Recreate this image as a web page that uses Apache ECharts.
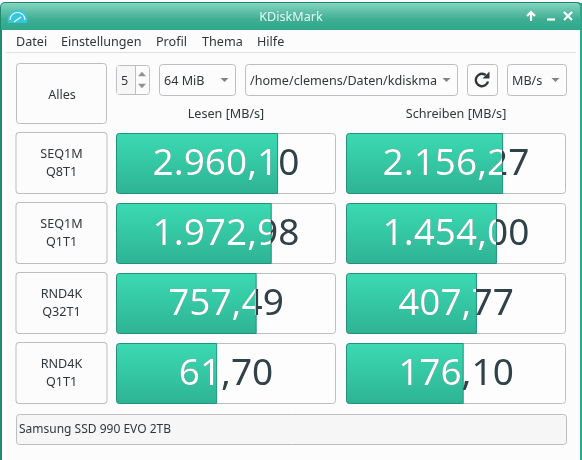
<!DOCTYPE html>
<html>
<head>
<meta charset="utf-8">
<title>KDiskMark</title>
<style>
html, body { margin: 0; padding: 0; background: #fff; }
#main { width: 582px; height: 460px; }
</style>
<script src="https://cdn.jsdelivr.net/npm/echarts@6/dist/echarts.min.js"></script>
</head>
<body>
<div id="main"></div>
<script>
var categories = ['SEQ1M\nQ8T1', 'SEQ1M\nQ1T1', 'RND4K\nQ32T1', 'RND4K\nQ1T1'];
var readValues = [2960.10, 1972.98, 757.49, 61.70];
var writeValues = [2156.27, 1454.00, 407.77, 176.10];
var menuItems = ['Datei', 'Einstellungen', 'Profil', 'Thema', 'Hilfe'];
var menuX = [16, 61, 156, 202, 257];

// the bars in the program are on a log scale
var axisMin = 0.1;
var axisMax = 117000;

var font = '"Noto Sans", sans-serif';
var dark = '#31363b';
var line = '#bcbebf';

var myChart = echarts.init(document.getElementById('main'), null, { renderer: 'canvas' });

function formatValue(v) {
    return v.toLocaleString('de-DE', { minimumFractionDigits: 2, maximumFractionDigits: 2 });
}

function label(x, y, text, opt) {
    opt = opt || {};
    return {
        type: 'text',
        x: x,
        y: y,
        z: 5,
        style: {
            text: text,
            fill: opt.fill || dark,
            font: (opt.size || 12.6) + 'px ' + font,
            align: opt.align || 'left',
            verticalAlign: 'middle'
        }
    };
}

function box(x, y, w, h, fill) {
    return {
        type: 'rect',
        z: 2,
        shape: { x: x + 0.5, y: y + 0.5, width: w, height: h, r: 3 },
        style: { fill: fill || '#fcfcfc', stroke: line, lineWidth: 1 }
    };
}

// h < 0 points the triangle up
function triangle(cx, cy, w, h, color) {
    return {
        type: 'polygon',
        z: 5,
        shape: { points: [[cx - w / 2, cy - h / 2], [cx + w / 2, cy - h / 2], [cx, cy + h / 2]] },
        style: { fill: color || '#7f8387' }
    };
}

function stroke(points, color, width) {
    return {
        type: 'polyline',
        z: 5,
        shape: { points: points },
        style: { stroke: color, lineWidth: width, fill: null }
    };
}

var chrome = [
    // window frame
    { type: 'rect', z: 0, shape: { x: 0, y: 2, width: 582, height: 458, r: [5, 5, 0, 0] }, style: { fill: '#1f8a72' } },
    { type: 'rect', z: 0, shape: { x: 580, y: 3, width: 2, height: 457 }, style: { fill: '#2ea88c' } },
    {
        type: 'rect',
        z: 1,
        shape: { x: 1, y: 3, width: 579, height: 27, r: [4, 4, 0, 0] },
        style: {
            fill: new echarts.graphic.LinearGradient(0, 0, 0, 1, [
                { offset: 0, color: '#84d4be' },
                { offset: 0.6, color: '#3fae93' },
                { offset: 1, color: '#2da88b' }
            ])
        }
    },
    { type: 'rect', z: 1, shape: { x: 2, y: 30, width: 578, height: 430 }, style: { fill: '#fcfcfc' } },
    { type: 'rect', z: 2, shape: { x: 6, y: 52, width: 570, height: 1 }, style: { fill: '#dfe0e0' } },

    // app icon
    { type: 'sector', z: 3, shape: { cx: 17.5, cy: 20, r: 10, r0: 0, startAngle: Math.PI, endAngle: Math.PI * 2 }, style: { fill: '#35c6dc' } },
    { type: 'rect', z: 3, shape: { x: 7.5, y: 19, width: 20, height: 4, r: 2 }, style: { fill: '#35c6dc' } },
    { type: 'arc', z: 4, shape: { cx: 17.5, cy: 20, r: 7.5, startAngle: Math.PI, endAngle: Math.PI * 2 }, style: { stroke: '#e8fbfd', lineWidth: 1.2, fill: null } },
    stroke([[14, 22], [21, 17]], '#e8fbfd', 1.3),

    label(291, 17, 'KDiskMark', { fill: '#e9f6f2', align: 'center' }),

    // window buttons
    stroke([[531, 21], [531, 12]], '#fff', 2.2),
    stroke([[527, 16], [531, 12], [535, 16]], '#fff', 2.2),
    stroke([[547, 19.5], [555, 19.5]], '#fff', 2.2),
    stroke([[564, 12], [572, 20]], '#fff', 2.2),
    stroke([[572, 12], [564, 20]], '#fff', 2.2),

    // toolbar
    box(16, 63, 90, 60, '#fcfcfc'),
    label(62, 95, 'Alles', { align: 'center' }),

    box(116, 65, 33, 29, '#fcfcfc'),
    { type: 'rect', z: 3, shape: { x: 117, y: 66, width: 18, height: 28 }, style: { fill: '#f6f6f6' } },
    { type: 'rect', z: 3, shape: { x: 135, y: 66, width: 1, height: 28 }, style: { fill: line } },
    label(124.5, 81, '5', { align: 'center' }),
    triangle(142, 74, 8, -4.5, '#8f9295'),
    triangle(142, 86, 8, 4.5, '#8f9295'),

    box(159, 64, 76, 31),
    label(164, 81, '64 MiB'),
    triangle(224.5, 80, 8, 4),

    box(245, 64, 212, 31),
    label(250, 81, '/home/clemens/Daten/kdiskma'),
    triangle(446.5, 80, 8, 4),

    box(467, 64, 30, 31),
    { type: 'arc', z: 5, shape: { cx: 482, cy: 80, r: 6.2, startAngle: Math.PI * 0.08, endAngle: -Math.PI * 0.3, clockwise: true }, style: { stroke: dark, lineWidth: 2.4, fill: null } },
    { type: 'polygon', z: 5, shape: { points: [[489.5, 71.5], [489.5, 78.5], [482.5, 78.5]] }, style: { fill: dark } },

    box(507, 64, 59, 31),
    label(512, 81, 'MB/s'),
    triangle(555.5, 80, 8, 4),

    // drive name
    box(16, 414, 550, 30, '#f6f6f6'),
    label(19, 430, 'Samsung SSD 990 EVO 2TB', { size: 12 })
];

menuItems.forEach(function (item, i) {
    chrome.push(label(menuX[i], 42, item));
});

var barFill = new echarts.graphic.LinearGradient(0, 0, 0, 1, [
    { offset: 0, color: '#3bdab3' },
    { offset: 1, color: '#2eb394' }
]);

// custom series because ECharts starts log-axis bars at 1, not at axis min.
// track, filled part, then the number in two colours: dark on the track,
// white clipped to the filled part
function resultSeries(values, axisIndex) {
    return {
        type: 'custom',
        xAxisIndex: axisIndex,
        yAxisIndex: axisIndex,
        z: 6,
        silent: true,
        encode: { x: 0, y: 1 },
        data: values.map(function (v, i) { return [v, i]; }),
        renderItem: function (params, api) {
            var v = api.value(0);
            var idx = api.value(1);
            var left = api.coord([axisMin, idx]);
            var right = api.coord([axisMax, idx]);
            var end = api.coord([v, idx]);
            var cx = (left[0] + right[0]) / 2;
            var cy = left[1];
            var textStyle = function (color) {
                return {
                    text: formatValue(v),
                    font: '37px ' + font,
                    fill: color,
                    align: 'center',
                    verticalAlign: 'middle'
                };
            };
            return {
                type: 'group',
                children: [
                    {
                        type: 'rect',
                        shape: { x: left[0] + 0.5, y: cy - 29.5, width: right[0] - left[0] - 1, height: 60, r: 3 },
                        style: { fill: '#fdfdfd', stroke: line, lineWidth: 1 }
                    },
                    {
                        type: 'rect',
                        shape: { x: left[0] + 0.5, y: cy - 29.5, width: end[0] - left[0] - 1, height: 60, r: [3, 0, 0, 3] },
                        style: { fill: barFill, stroke: '#23907a', lineWidth: 1 }
                    },
                    { type: 'text', x: cx, y: cy + 1, style: textStyle('#30414a') },
                    {
                        type: 'text',
                        x: cx,
                        y: cy + 1,
                        style: textStyle('#ffffff'),
                        clipPath: {
                            type: 'rect',
                            shape: { x: left[0] - cx, y: -31, width: end[0] - left[0] - 1, height: 60 }
                        }
                    }
                ]
            };
        }
    };
}

function valueAxis(name, gridIndex) {
    return {
        type: 'log',
        gridIndex: gridIndex,
        position: 'top',
        z: 10,
        min: axisMin,
        max: axisMax,
        name: name,
        nameLocation: 'middle',
        nameGap: 7,
        nameTextStyle: { color: dark, fontFamily: font, fontSize: 12.6 },
        axisLine: { show: false },
        axisTick: { show: false },
        axisLabel: { show: false },
        splitLine: { show: false }
    };
}

var option = {
    animation: false,
    backgroundColor: '#ffffff',
    textStyle: { fontFamily: font },
    graphic: { elements: chrome },
    grid: [
        { left: 116, top: 128, width: 220, height: 280 },
        { left: 346, top: 128, width: 220, height: 280 }
    ],
    xAxis: [valueAxis('Lesen [MB/s]', 0), valueAxis('Schreiben [MB/s]', 1)],
    yAxis: [{
        type: 'category',
        gridIndex: 0,
        inverse: true,
        z: 10,
        data: categories,
        axisLine: { show: false },
        axisTick: { show: false },
        axisLabel: {
            margin: 54.5,
            color: dark,
            fontFamily: font,
            fontSize: 12.6,
            lineHeight: 18,
            width: 90,
            align: 'center',
            padding: [13, 0, 11, 0],
            backgroundColor: '#fcfcfc',
            borderColor: line,
            borderWidth: 1,
            borderRadius: 3
        }
    }, {
        type: 'category',
        gridIndex: 1,
        inverse: true,
        data: categories,
        axisLine: { show: false },
        axisTick: { show: false },
        axisLabel: { show: false }
    }],
    series: [
        resultSeries(readValues, 0),
        resultSeries(writeValues, 1)
    ]
};

myChart.setOption(option);
</script>
</body>
</html>
